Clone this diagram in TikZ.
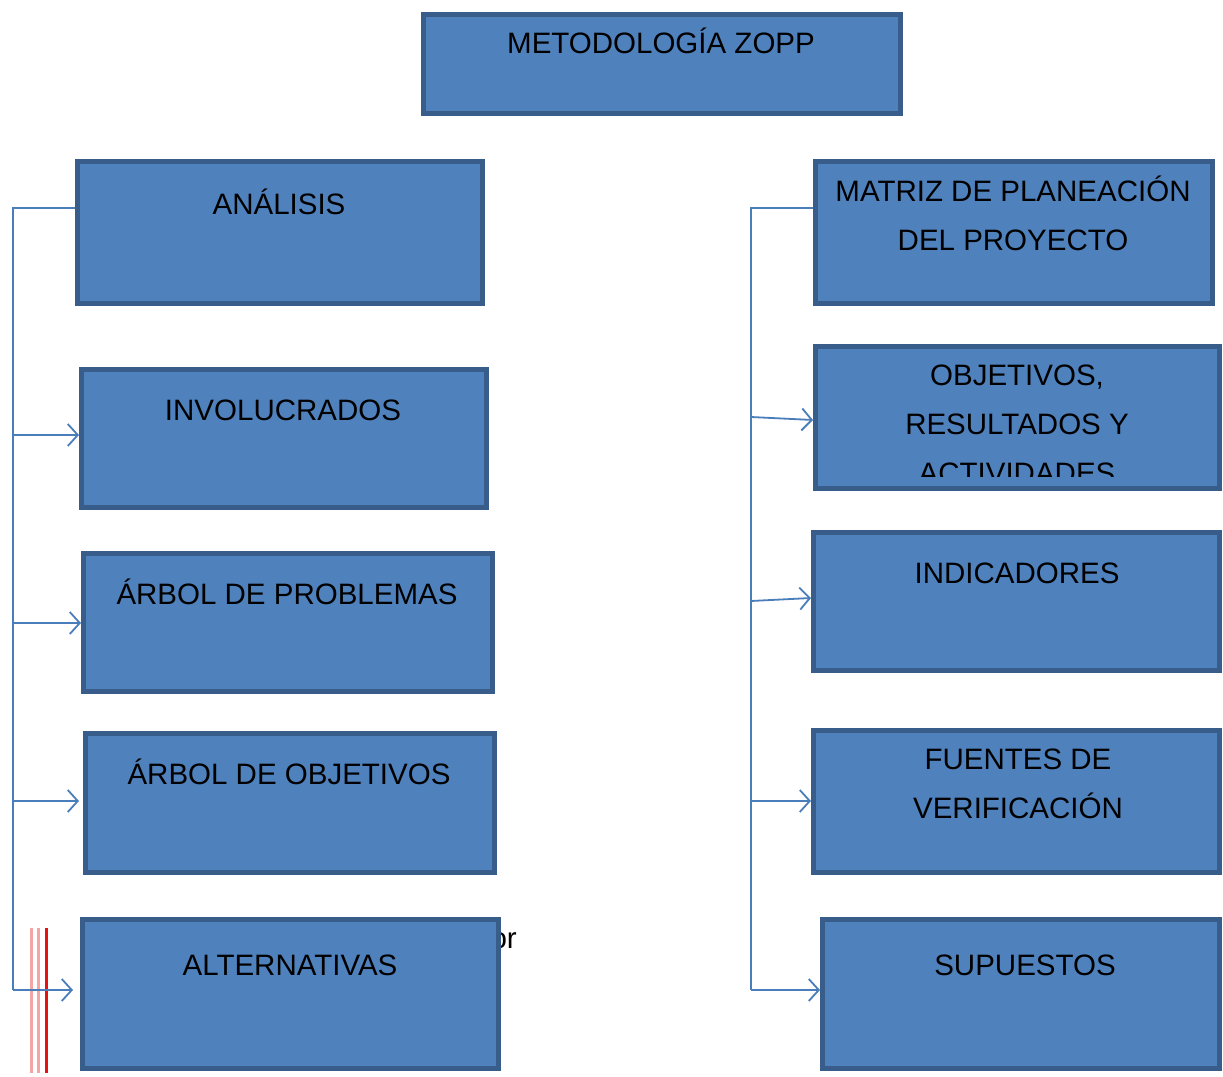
\documentclass[tikz,border=0pt]{standalone}
\usepackage{fontspec}
\setmainfont{Liberation Sans}
\usetikzlibrary{arrows.meta,calc}
\definecolor{boxfill}{HTML}{4F81BD}
\definecolor{boxline}{HTML}{385D8A}
\definecolor{conn}{HTML}{4A7EBB}
\definecolor{pinkl}{HTML}{F4A6A6}
\definecolor{redl}{HTML}{E81010}
\tikzset{
  box/.style={draw=boxline, fill=boxfill, line width=5pt, inner sep=0pt},
  lbl/.style={font=\fontsize{29.5}{29.5}\selectfont, anchor=base, inner sep=0pt, text=black},
  bus/.style={draw=conn, line width=1.8pt},
  arr/.style={draw=conn, line width=1.8pt, -{Straight Barb[length=10pt,width=22pt,line width=1.8pt]}},
}
\begin{document}
\begin{tikzpicture}[x=1pt,y=-1pt]
\useasboundingbox (0,0) rectangle (1223,1076);
% red lines
\draw[pinkl, line width=3pt] (31,928) -- (31,1073);
\draw[pinkl, line width=3pt] (38,928) -- (38,1073);
\draw[redl, line width=3pt] (46,928) -- (46,1073);
% partially hidden text
\node[lbl, anchor=base east] (ortxt) at (517,948) {or};
% boxes
\node[box, minimum width=477pt, minimum height=99pt] (top) at (662,64) {};
\node[box, minimum width=405pt, minimum height=142pt] (ana) at (280,232.5) {};
\node[box, minimum width=405pt, minimum height=138pt] (inv) at (284,438.5) {};
\node[box, minimum width=409pt, minimum height=138pt] (prob) at (288,622.5) {};
\node[box, minimum width=409pt, minimum height=139pt] (obj) at (290,803) {};
\node[box, minimum width=416pt, minimum height=149pt] (alt) at (290.5,994) {};
\node[box, minimum width=397pt, minimum height=142pt] (mat) at (1014,232.5) {};
\node[box, minimum width=404pt, minimum height=142pt] (ora) at (1017.5,417.5) {};
\node[box, minimum width=406pt, minimum height=138pt] (ind) at (1016.5,601.5) {};
\node[box, minimum width=406pt, minimum height=142pt] (fue) at (1016.5,801.5) {};
\node[box, minimum width=397pt, minimum height=149pt] (sup) at (1021,994) {};
% labels
\node[lbl] (ttop) at (661,53) {METODOLOGÍA ZOPP};
\node[lbl] (tana) at (279,214) {ANÁLISIS};
\node[lbl] (tinv) at (283,420) {INVOLUCRADOS};
\node[lbl] (tprob) at (287,604) {ÁRBOL DE PROBLEMAS};
\node[lbl] (tobj) at (289,784) {ÁRBOL DE OBJETIVOS};
\node[lbl] (talt) at (290,975) {ALTERNATIVAS};
\node[lbl] (tmat1) at (1013,201) {MATRIZ DE PLANEACIÓN};
\node[lbl] (tmat2) at (1013,250) {DEL PROYECTO};
\node[lbl] (tora1) at (1017,385) {OBJETIVOS,};
\node[lbl] (tora2) at (1017,434) {RESULTADOS Y};
\begin{scope}
\clip (820,440) rectangle (1215,476);
\node[lbl] (tora3) at (1017,483) {ACTIVIDADES};
\end{scope}
\node[lbl] (tind) at (1017,583) {INDICADORES};
\node[lbl] (tfue1) at (1018,769) {FUENTES DE};
\node[lbl] (tfue2) at (1018,818) {VERIFICACIÓN};
\node[lbl] (tsup) at (1025,975) {SUPUESTOS};
% left connectors
\coordinate (L0) at (13,208);
\coordinate (L1) at (13,435);
\coordinate (L2) at (13,623);
\coordinate (L3) at (13,801);
\coordinate (L4) at (13,990);
\draw[bus] (L0 -| ana.west) -- (L0) -- (L4);
\draw[arr] (L1) -- (L1 -| inv.west);
\draw[arr] (L2) -- (L2 -| prob.west);
\draw[arr] (L3) -- (L3 -| 79,0);
\draw[arr] (L4) -- (L4 -| 73,0);
% right connectors
\coordinate (R0) at (751,208);
\coordinate (R1) at (751,417);
\coordinate (R2) at (751,601);
\coordinate (R3) at (751,801);
\coordinate (R4) at (751,990);
\draw[bus] (R0 -| mat.west) -- (R0) -- (R4);
\draw[arr] (R1) -- (ora.west |- 0,420);
\draw[arr] (R2) -- (ind.west |- 0,598);
\draw[arr] (R3) -- (R3 -| fue.west);
\draw[arr] (R4) -- (R4 -| sup.west);
\end{tikzpicture}
\end{document}
